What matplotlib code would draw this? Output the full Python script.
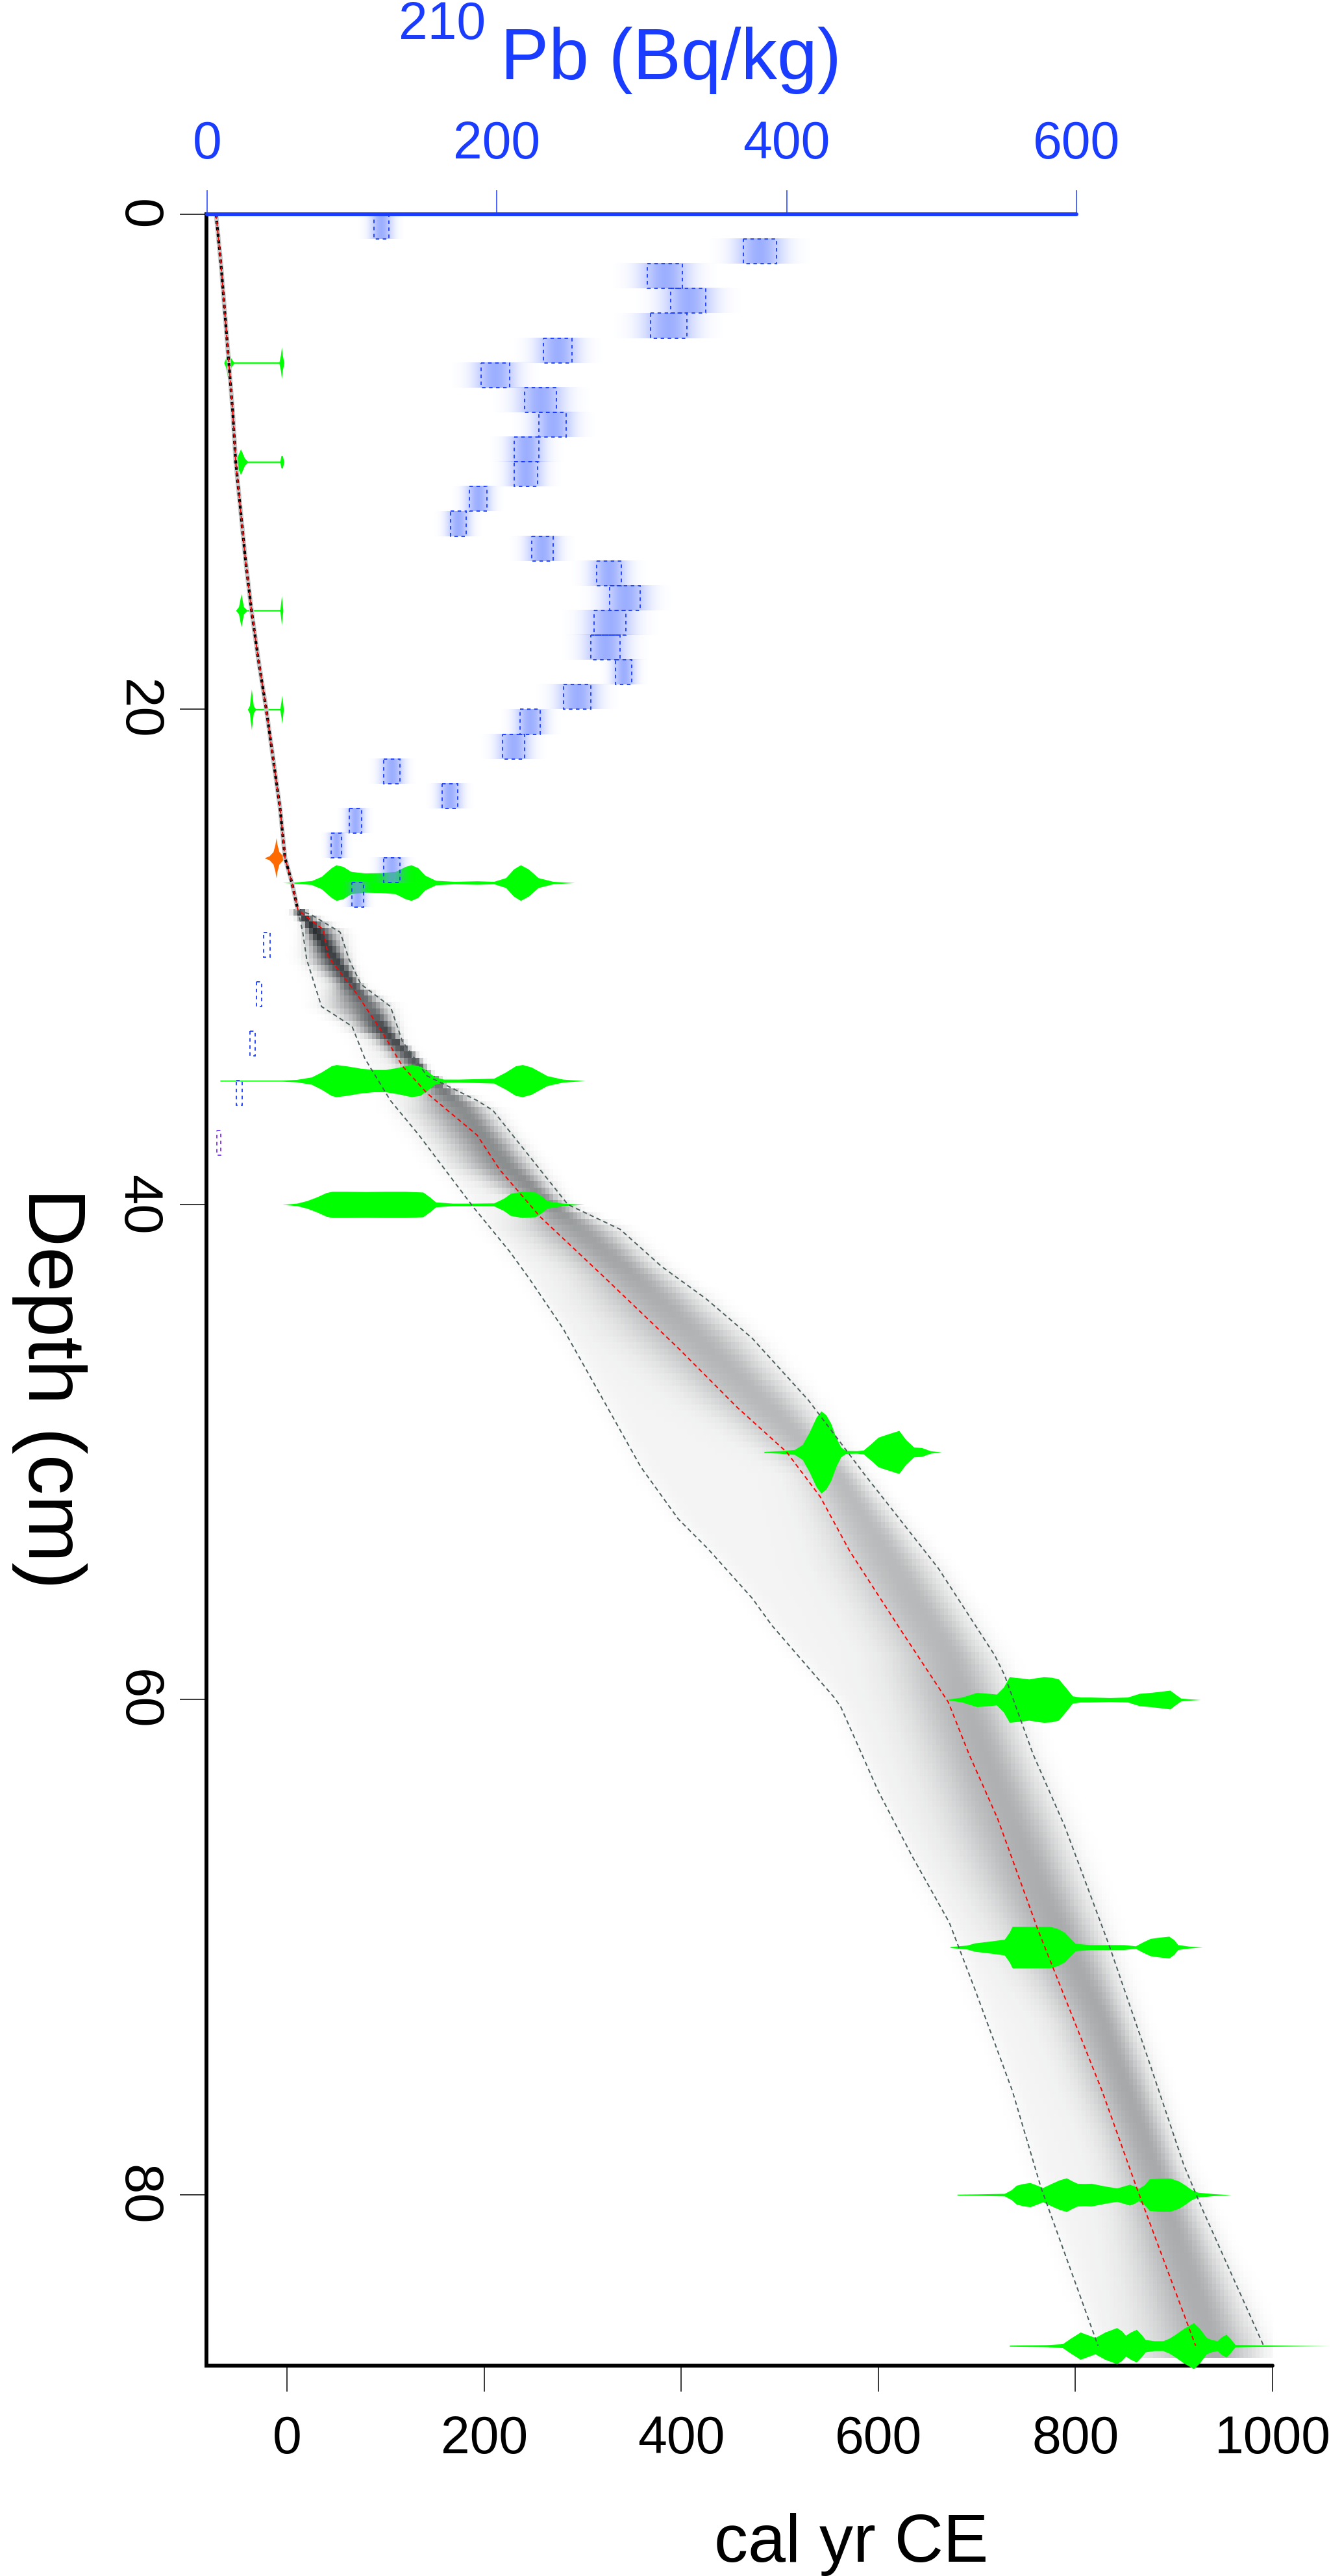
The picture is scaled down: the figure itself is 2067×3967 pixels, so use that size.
import numpy as np
import matplotlib
matplotlib.use('Agg')
import matplotlib.pyplot as plt
from matplotlib.patches import Rectangle

plt.rcParams['font.family'] = ['Liberation Sans', 'DejaVu Sans']

BLUE = '#1a3cff'
GREEN = '#00ff00'
ORANGE = '#ff6a00'

# ---------------- axes ticks ----------------
depth_ticks = [0, 20, 40, 60, 80]
year_ticks = [0, 200, 400, 600, 800, 1000]
pb_ticks = [0, 200, 400, 600]

# ---------------- 210Pb data (1-cm slices) ----------------
pb_top = list(range(28))
pb_lo = [115, 370, 304, 320, 306, 232, 189, 219, 229, 212, 212, 181, 168, 224,
         269, 278, 267, 265, 282, 246, 216, 204, 122, 162, 98, 85.5, 122, 100]
pb_hi = [125.6, 393, 328, 344, 331, 252, 209, 241, 248, 229, 228, 193, 179, 239,
         286, 299, 289, 285, 293, 265, 230, 219, 133, 173, 106.5, 92.7, 133, 108]
sup_top = [29, 31, 33, 35, 37]
sup_lo = [39, 34, 29.6, 20, 6.7]
sup_hi = [43.5, 37.6, 33, 24, 9.4]
sup_col = [BLUE, BLUE, BLUE, BLUE, '#7a30ff']

# ---------------- age-depth model ----------------
mean_depth = [0, 2, 4, 6, 8, 10, 12, 14, 16, 18, 20, 22, 24, 26, 27, 28.1, 28.9, 30, 31.5,
              33, 34.4, 35.5, 37.2, 38.6, 40.5, 42.9, 45.8, 48.2, 50, 51.8, 54, 57.2,
              60.1, 62.2, 64.8, 69.3, 72, 75.8, 79.7, 86.1]
mean_yr = [-72, -67, -63, -59, -55, -52, -47, -42, -36, -29, -21, -14, -7, -2, 5, 11, 37, 42, 71,
           96, 117, 142, 193, 216, 257, 321, 397, 457, 507, 541, 571, 623,
           671, 692, 721, 762, 789, 827, 862, 922]
lo_depth = [28.1, 29, 30.1, 32, 32.8, 34.1, 35.8, 37.2, 40.1, 41.9, 43, 45, 47.9, 50.6, 52.7,
            53.9, 55.9, 57, 59.9, 60.3, 63.7, 66.3, 69, 71.7, 75.8, 79.7, 86.1]
lo_yr = [11, 16, 20, 35, 66, 79, 105, 134, 189, 226, 246, 280, 321, 359, 397,
         427, 472, 492, 555, 562, 600, 634, 672, 698, 736, 765, 823]
hi_depth = [28.1, 28.3, 29, 30.1, 31.1, 32, 33.4, 34.8, 35.8, 36.2, 37.9, 40, 41, 42.5, 43.8,
            45.4, 47.9, 50.9, 54.7, 58.2, 59, 62.2, 65.1, 69.9, 74.3, 78.8, 80.6, 86.1]
hi_yr = [11, 25, 54, 63, 75, 105, 117, 142, 193, 209, 243, 285, 338, 380, 425,
         472, 529, 586, 661, 718, 728, 757, 789, 834, 872, 910, 929, 991]
mode_depth = [28.1, 30, 33, 36, 38.4, 43, 45.8, 50.9, 58.2, 62.3, 67.4, 72.9, 77.4, 86.1]
mode_yr = [11, 48, 100, 175, 222, 355, 427, 559, 672, 709, 762, 827, 868, 940]

# ---------------- calibrated dates (year, half-height in cm) ----------------
cal_depth = [6, 10, 16, 20, 27, 35, 40, 50, 60, 70, 80, 86.1]
cal_yr = [
    [-64, -62, -59.5, -57, -54, -8, -6.5, -5.5, -4.5, -3],
    [-55, -51, -47, -43, -40, -7, -6, -4.5, -3],
    [-52, -49, -46.5, -44, -41, -7, -5.5, -4],
    [-40, -38, -36, -34, -32, -7, -5, -3.5],
    [-4.5, 10, 25, 35, 45, 50, 57, 65, 79, 95, 110, 120, 126, 133, 140, 151, 170, 193, 210,
     222, 230, 237, 245, 255, 270, 292],
    [-68, -5, 10, 25, 35, 45, 50, 60, 75, 88, 100, 115, 126, 135, 142, 150, 159, 175, 193,
     210, 222, 232, 239, 248, 264, 280, 302],
    [-5, 10, 20, 30, 40, 46, 60, 80, 100, 120, 138, 145, 151, 168, 190, 210, 220, 227, 239,
     252, 258, 264, 280, 302],
    [484, 500, 515, 523, 530, 537, 542, 547, 552, 557, 562, 567, 578, 585, 593, 600, 609,
     621, 628, 636, 644, 653, 664],
    [671, 685, 700, 712, 720, 727, 733, 743, 753, 760, 768, 776, 783, 790, 797, 805, 815, 835,
     853, 865, 877, 890, 896, 902, 907, 915, 927],
    [673, 690, 698, 715, 728, 733, 736, 745, 755, 765, 774, 782, 789, 795, 800, 815, 830, 849,
     861, 868, 876, 885, 895, 900, 904, 915, 929],
    [680, 700, 728, 735, 740, 747, 754, 760, 767, 776, 784, 791, 797, 802, 809, 816, 830, 842,
     849, 855, 860, 864, 870, 875, 885, 896, 905, 911, 918, 924, 940, 958],
    [733, 770, 787, 795, 805, 812, 820, 830, 842, 847, 851, 856, 862, 867, 871, 880, 889, 895,
     900, 910, 920, 926, 933, 938, 944, 948, 953, 957, 962, 985, 1009, 1058],
]
cal_half = [
    [0, 0.2, 0.72, 0.2, 0.03, 0.03, 0.3, 0.63, 0.3, 0],
    [0, 0.15, 0.52, 0.15, 0.03, 0.03, 0.25, 0.25, 0],
    [0, 0.15, 0.67, 0.15, 0.03, 0.03, 0.58, 0],
    [0, 0.15, 0.82, 0.15, 0.03, 0.03, 0.57, 0],
    [0, 0.03, 0.08, 0.25, 0.6, 0.72, 0.65, 0.45, 0.39, 0.4, 0.45, 0.65, 0.72, 0.6, 0.3, 0.09,
     0.05, 0.07, 0.05, 0.2, 0.55, 0.72, 0.55, 0.2, 0.05, 0],
    [0.02, 0.02, 0.05, 0.15, 0.35, 0.6, 0.65, 0.6, 0.5, 0.45, 0.45, 0.55, 0.65, 0.6, 0.4, 0.15,
     0.06, 0.06, 0.08, 0.1, 0.35, 0.6, 0.65, 0.55, 0.2, 0.06, 0],
    [0, 0.05, 0.15, 0.3, 0.48, 0.53, 0.53, 0.52, 0.53, 0.53, 0.5, 0.3, 0.1, 0.05, 0.05, 0.06,
     0.25, 0.45, 0.53, 0.5, 0.35, 0.15, 0.05, 0],
    [0.02, 0.05, 0.1, 0.3, 0.8, 1.4, 1.66, 1.5, 1.15, 0.6, 0.2, 0.06, 0.05, 0.08, 0.35, 0.6,
     0.72, 0.87, 0.5, 0.2, 0.18, 0.05, 0],
    [0.02, 0.1, 0.29, 0.25, 0.22, 0.5, 0.92, 0.88, 0.83, 0.88, 0.92, 0.9, 0.83, 0.5, 0.15, 0.1,
     0.1, 0.08, 0.1, 0.25, 0.29, 0.35, 0.38, 0.2, 0.06, 0.03, 0],
    [0.02, 0.08, 0.17, 0.25, 0.32, 0.6, 0.84, 0.84, 0.84, 0.84, 0.84, 0.75, 0.6, 0.35, 0.15,
     0.1, 0.1, 0.1, 0.05, 0.2, 0.35, 0.4, 0.44, 0.3, 0.1, 0.04, 0],
    [0.02, 0.03, 0.05, 0.2, 0.38, 0.45, 0.49, 0.4, 0.29, 0.46, 0.6, 0.68, 0.55, 0.46, 0.45,
     0.46, 0.35, 0.27, 0.35, 0.42, 0.35, 0.25, 0.4, 0.64, 0.67, 0.67, 0.55, 0.4, 0.2, 0.1,
     0.04, 0],
    [0.02, 0.04, 0.08, 0.3, 0.55, 0.45, 0.33, 0.55, 0.73, 0.6, 0.42, 0.55, 0.66, 0.45, 0.25,
     0.2, 0.2, 0.3, 0.42, 0.7, 0.93, 0.7, 0.33, 0.25, 0.2, 0.35, 0.46, 0.3, 0.05, 0.03, 0.02, 0],
]
orange_depth = 26
orange_yr = [-23, -18, -14, -12, -11, -10, -8, -4, 0]
orange_half = [0, 0.08, 0.25, 0.55, 0.81, 0.55, 0.25, 0.08, 0]

# ---------------- figure ----------------
W, H = 2067, 3967
fig = plt.figure(figsize=(W / 100, H / 100), dpi=100)
L_px, R_px, T_px, B_px = 318, 1960, 330, 3643
ax = fig.add_axes([L_px / W, 1 - B_px / H, (R_px - L_px) / W, (B_px - T_px) / H])
XLIM = (-81.7, 1000)
YLIM = (86.9, 0)

# grey age-model density image
dd = np.arange(28.2, 86.7, 0.25)
yy = np.arange(-20, 1012, 4.0)
Lb = np.interp(dd, lo_depth, lo_yr)
Rb = np.interp(dd, hi_depth, hi_yr)
Mo = np.interp(dd, mode_depth, mode_yr)
Mo = np.clip(Mo, Lb + 1, Rb - 1)
width = np.maximum(Rb - Lb, 10)
peak = np.clip(12.0 / width ** 0.7, 0, 0.95)
Y = yy[None, :]
sR = np.maximum((Rb - Mo) / 2.0, 4)[:, None]
sL = np.maximum(np.minimum((Mo - Lb) / 2.0, sR[:, 0] * 1.4 + 6), 4)[:, None]
core = np.where(Y >= Mo[:, None], np.exp(-0.5 * ((Y - Mo[:, None]) / sR) ** 2),
                np.exp(-0.5 * ((Y - Mo[:, None]) / sL) ** 2))
tail = 1 / (1 + np.exp(-(Y - Lb[:, None]) / 6)) / (1 + np.exp((Y - Rb[:, None]) / 6))
dark = np.clip(peak[:, None] * core * 0.95 + 0.05 * tail, 0, 1)
img = np.zeros(dark.shape + (4,))
img[..., 0] = 0.12
img[..., 1] = 0.14
img[..., 2] = 0.15
img[..., 3] = dark
ax.imshow(img, extent=[yy[0] - 2, yy[-1] + 2, dd[-1] + 0.125, dd[0] - 0.125],
          aspect='auto', interpolation='nearest', origin='upper', zorder=1)

# calibrated dates
for d, xs, hs in zip(cal_depth, cal_yr, cal_half):
    xs = np.array(xs, float)
    hs = np.array(hs, float)
    ax.fill_between(xs, d - hs, d + hs, color=GREEN, lw=0, zorder=3,
                    clip_on=(d < 86))
ox = np.array(orange_yr, float)
oh = np.array(orange_half, float)
ax.fill_between(ox, orange_depth - oh, orange_depth + oh, color=ORANGE, lw=0, zorder=3)

# model lines
md = np.array(mean_depth)
my = np.array(mean_yr)
up = md <= 28.1
ax.plot(my[up], md[up], color='#c8c8c8', lw=5, zorder=4, solid_capstyle='butt')
ax.plot(my[up], md[up], color='black', lw=3, ls=(0, (1.2, 1.2)), zorder=4)
ax.plot(lo_yr, lo_depth, color='#4d5e5e', lw=1.4, ls=(0, (3.5, 2.5)), zorder=5)
ax.plot(hi_yr, hi_depth, color='#4d5e5e', lw=1.4, ls=(0, (3.5, 2.5)), zorder=5)
ax.plot(my, md, color='red', lw=1.4, ls=(0, (3.5, 2.5)), zorder=6)

ax.set_xlim(*XLIM)
ax.set_ylim(*YLIM)
for s in ['top', 'right']:
    ax.spines[s].set_visible(False)
ax.spines['left'].set_linewidth(4.3)
ax.spines['bottom'].set_linewidth(4.3)
ax.spines['bottom'].set_capstyle('round')
ax.set_xticks(year_ticks, labels=[str(t) for t in year_ticks])
ax.set_yticks(depth_ticks, labels=[str(t) for t in depth_ticks])
ax.tick_params(axis='x', direction='out', length=29, width=1.1, pad=26, labelsize=58)
ax.tick_params(axis='y', direction='out', length=29.5, width=1.1, pad=19, labelsize=60)
for lbl in ax.get_yticklabels():
    lbl.set_rotation(-90)
    lbl.set_va('center')

# 210Pb axis
ax2 = ax.twiny()
grad_z = np.linspace(-3, 3, 61)
grad = np.zeros((1, 61, 4))
grad[..., 0] = 0.45
grad[..., 1] = 0.55
grad[..., 2] = 1.0
grad[..., 3] = 0.7 * np.exp(-0.5 * grad_z ** 2)
for t, lo, hi in zip(pb_top, pb_lo, pb_hi):
    c = (lo + hi) / 2.0
    s = (hi - lo) / 2.0
    ax2.imshow(grad, extent=[c - 3 * s, c + 3 * s, t + 1, t], aspect='auto',
               interpolation='bilinear', zorder=2)
    ax2.add_patch(Rectangle((lo, t), hi - lo, 1, fill=False, ec=BLUE, lw=1.3,
                            ls=(0, (3, 3)), zorder=3))
for t, lo, hi, col in zip(sup_top, sup_lo, sup_hi, sup_col):
    ax2.add_patch(Rectangle((lo, t), hi - lo, 1, fill=False, ec=col, lw=1.3,
                            ls=(0, (3, 3)), zorder=3))
ax2.set_xlim(-0.45, 735.3)
ax2.set_ylim(*YLIM)
for s in ['bottom', 'left', 'right']:
    ax2.spines[s].set_visible(False)
ax2.spines['top'].set_bounds(0, 600)
ax2.spines['top'].set_color(BLUE)
ax2.spines['top'].set_linewidth(4.3)
ax2.spines['top'].set_capstyle('round')
ax2.set_xticks(pb_ticks, labels=[str(t) for t in pb_ticks])
ax2.tick_params(axis='x', direction='out', length=27, width=1.1, pad=23, labelsize=58,
                colors=BLUE)
ax2.patch.set_visible(False)

# axis titles
fig.text(771 / W, 1 - 122 / H, 'Pb (Bq/kg)', color=BLUE, fontsize=80, ha='left', va='baseline')
fig.text(748 / W, 1 - 60 / H, '210', color=BLUE, fontsize=58, ha='right', va='baseline')
fig.text(1100 / W, 1 - 3945 / H, 'cal yr CE', color='black', fontsize=75, ha='left',
         va='baseline')
fig.text(76 / W, 1 - 2138 / H, 'Depth (cm)', color='black', fontsize=90, rotation=-90,
         ha='center', va='center')

fig.savefig('out.png', dpi=100)
